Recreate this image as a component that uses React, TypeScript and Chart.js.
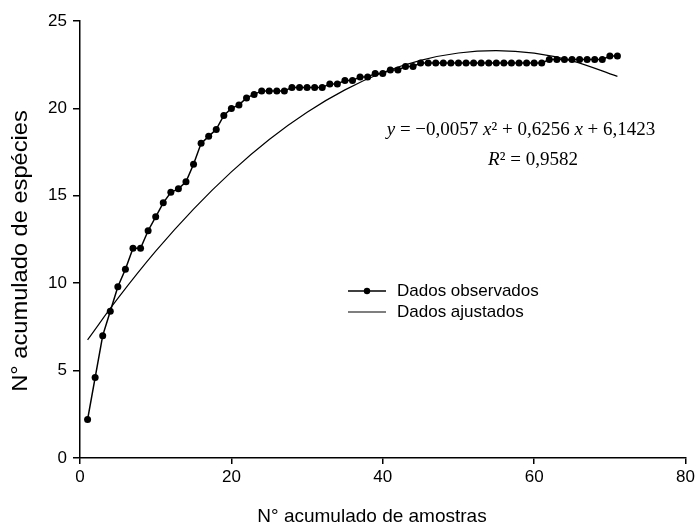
import React, { useEffect, useRef } from "react";
import { Chart, registerables } from "chart.js";

Chart.register(...registerables);

const sampleNumbers = [
  1, 2, 3, 4, 5, 6, 7, 8, 9, 10, 11, 12, 13, 14, 15, 16, 17, 18, 19, 20,
  21, 22, 23, 24, 25, 26, 27, 28, 29, 30, 31, 32, 33, 34, 35, 36, 37, 38, 39, 40,
  41, 42, 43, 44, 45, 46, 47, 48, 49, 50, 51, 52, 53, 54, 55, 56, 57, 58, 59, 60,
  61, 62, 63, 64, 65, 66, 67, 68, 69, 70, 71,
];

const observedSpecies = [
  2.2, 4.6, 7.0, 8.4, 9.8, 10.8, 12.0, 12.0, 13.0, 13.8,
  14.6, 15.2, 15.4, 15.8, 16.8, 18.0, 18.4, 18.8, 19.6, 20.0,
  20.2, 20.6, 20.8, 21.0, 21.0, 21.0, 21.0, 21.2, 21.2, 21.2,
  21.2, 21.2, 21.4, 21.4, 21.6, 21.6, 21.8, 21.8, 22.0, 22.0,
  22.2, 22.2, 22.4, 22.4, 22.6, 22.6, 22.6, 22.6, 22.6, 22.6,
  22.6, 22.6, 22.6, 22.6, 22.6, 22.6, 22.6, 22.6, 22.6, 22.6,
  22.6, 22.8, 22.8, 22.8, 22.8, 22.8, 22.8, 22.8, 22.8, 23.0,
  23.0,
];

const fittedX = [1, 5, 10, 15, 20, 25, 30, 35, 40, 45, 50, 55, 60, 65, 71];
const fittedY = [6.76, 9.13, 11.83, 14.24, 16.37, 18.22, 19.78, 21.06, 22.05, 22.75, 23.17, 23.31, 23.16, 22.72, 21.83];

const xTicks = [0, 20, 40, 60, 80];
const yTicks = [0, 5, 10, 15, 20, 25];

const legendLabels = ["Dados observados", "Dados ajustados"];
const xTitle = "N° acumulado de amostras";
const yTitle = "N° acumulado de espécies";

const SANS = "'Liberation Sans', Arial, sans-serif";
const SERIF = "'Liberation Serif', 'Times New Roman', serif";

const overlayPlugin = {
  id: "overlay",
  afterDraw(chart: any) {
    const ctx = chart.ctx as CanvasRenderingContext2D;
    ctx.save();
    ctx.fillStyle = "#000";
    ctx.strokeStyle = "#000";

    // axis titles
    ctx.textAlign = "center";
    ctx.textBaseline = "middle";
    ctx.font = `19px ${SANS}`;
    ctx.fillText(xTitle, 372, 517);
    ctx.save();
    ctx.translate(21, 251);
    ctx.rotate(-Math.PI / 2);
    ctx.scale(1.1, 1);
    ctx.font = `21.5px ${SANS}`;
    ctx.fillText(yTitle, 0, 0);
    ctx.restore();

    // legend
    const lx0 = 348, lx1 = 386;
    const ly = [291, 312];
    ctx.lineWidth = 1.5;
    ctx.beginPath();
    ctx.moveTo(lx0, ly[0]);
    ctx.lineTo(lx1, ly[0]);
    ctx.stroke();
    ctx.beginPath();
    ctx.arc((lx0 + lx1) / 2, ly[0], 3.2, 0, Math.PI * 2);
    ctx.fill();
    ctx.lineWidth = 1.2;
    ctx.beginPath();
    ctx.moveTo(lx0, ly[1]);
    ctx.lineTo(lx1, ly[1]);
    ctx.stroke();
    ctx.font = `17px ${SANS}`;
    ctx.textBaseline = "middle";
    ctx.textAlign = "left";
    ctx.fillText(legendLabels[0], 397, ly[0]);
    ctx.fillText(legendLabels[1], 397, ly[1]);

    // equation
    const drawSegments = (segs: [string, boolean][], cx: number, baseY: number, size: number) => {
      let total = 0;
      const widths = segs.map(([t, it]) => {
        ctx.font = `${it ? "italic " : ""}${size}px ${SERIF}`;
        const w = ctx.measureText(t).width;
        total += w;
        return w;
      });
      let x = cx - total / 2;
      ctx.textAlign = "left";
      ctx.textBaseline = "alphabetic";
      segs.forEach(([t, it], i) => {
        ctx.font = `${it ? "italic " : ""}${size}px ${SERIF}`;
        ctx.fillText(t, x, baseY);
        x += widths[i];
      });
    };
    drawSegments(
      [
        ["y", true],
        [" = \u22120,0057 ", false],
        ["x", true],
        ["\u00B2 + 0,6256 ", false],
        ["x", true],
        [" + 6,1423", false],
      ],
      521,
      135,
      19
    );
    drawSegments(
      [
        ["R", true],
        ["\u00B2 = 0,9582", false],
      ],
      533,
      165,
      19
    );
    ctx.restore();
  },
};

export default function App() {
  const ref = useRef<HTMLCanvasElement>(null);
  useEffect(() => {
    if (!ref.current) return;
    const chart = new Chart(ref.current, {
      type: "line",
      data: {
        datasets: [
          {
            label: legendLabels[0],
            data: sampleNumbers.map((x, i) => ({ x, y: observedSpecies[i] })),
            borderColor: "#000",
            backgroundColor: "#000",
            borderWidth: 1.5,
            pointRadius: 3.5,
            pointBackgroundColor: "#000",
            pointBorderColor: "#000",
            pointBorderWidth: 0,
            tension: 0,
          },
          {
            label: legendLabels[1],
            data: fittedX.map((x, i) => ({ x, y: fittedY[i] })),
            borderColor: "#000",
            borderWidth: 1.2,
            pointRadius: 0,
            tension: 0.4,
          },
        ],
      },
      options: {
        responsive: false,
        animation: false,
        devicePixelRatio: 1,
        layout: { padding: { left: 0, right: 12, top: 21, bottom: 0 } },
        plugins: {
          legend: { display: false },
          tooltip: { enabled: false },
        },
        scales: {
          x: {
            type: "linear",
            min: 0,
            max: 80,
            afterFit: (s: any) => {
              s.height = 69;
            },
            afterBuildTicks: (s: any) => {
              s.ticks = xTicks.map((v) => ({ value: v }));
            },
            ticks: {
              color: "#000",
              font: { family: SANS, size: 17 },
              padding: 3,
              maxRotation: 0,
            },
            grid: {
              drawOnChartArea: false,
              drawTicks: true,
              tickLength: 6,
              color: "#000",
              lineWidth: 1.5,
            },
            border: { display: true, color: "#000", width: 1.5 },
            title: { display: false },
          },
          y: {
            type: "linear",
            min: 0,
            max: 25,
            afterFit: (s: any) => {
              s.width = 80;
            },
            afterBuildTicks: (s: any) => {
              s.ticks = yTicks.map((v) => ({ value: v }));
            },
            ticks: {
              color: "#000",
              font: { family: SANS, size: 17 },
              padding: 6,
            },
            grid: {
              drawOnChartArea: false,
              drawTicks: true,
              tickLength: 7,
              color: "#000",
              lineWidth: 1.5,
            },
            border: { display: true, color: "#000", width: 1.5 },
            title: { display: false },
          },
        },
      },
      plugins: [overlayPlugin],
    });
    return () => chart.destroy();
  }, []);
  return (
    <div style={{ position: "absolute", left: 0, top: 0, width: 698, height: 527, background: "#fff" }}>
      <canvas ref={ref} width={698} height={527} style={{ display: "block", width: 698, height: 527 }} />
    </div>
  );
}
